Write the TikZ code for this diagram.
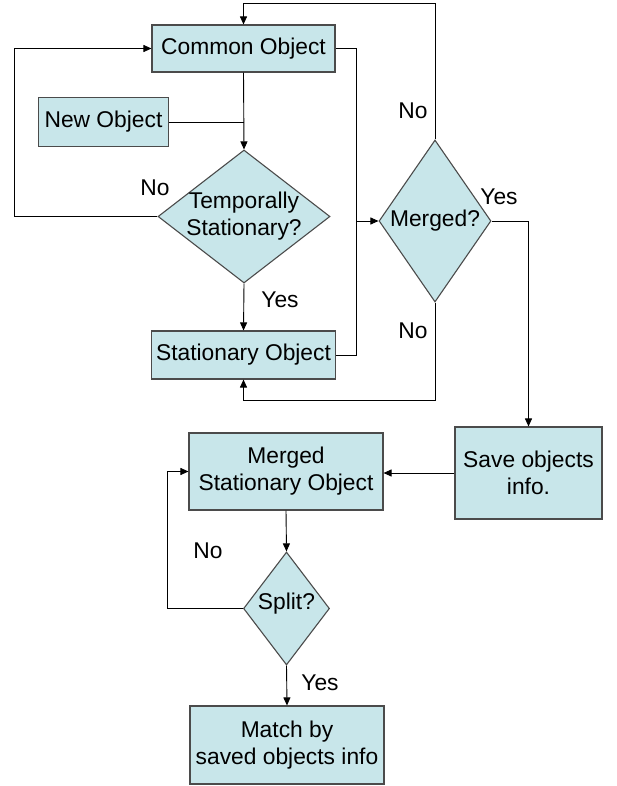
\documentclass[tikz,border=0pt]{standalone}
\usepackage{fontspec}
\setmainfont{Liberation Sans}
\usetikzlibrary{shapes.geometric,arrows.meta}

\definecolor{boxfill}{RGB}{200,230,234}
\definecolor{boxline}{RGB}{75,75,75}

\begin{document}
\begin{tikzpicture}[
    x=1pt, y=-1pt,
    font=\fontsize{22.8}{27}\selectfont,
    box/.style={draw=boxline, fill=boxfill, line width=1.1pt, rectangle, align=center, inner sep=0pt},
    decision/.style={draw=boxline, fill=boxfill, line width=1.1pt, diamond, inner sep=0pt},
    lbl/.style={inner sep=0pt},
    arrow/.style={-{Triangle[length=8pt,width=7pt]}, line width=0.9pt},
    line/.style={line width=0.9pt}
]
    \useasboundingbox (0,0) rectangle (616,786);

    % Upper part
    \node[box, minimum width=183, minimum height=47] (co) at (243.5,48.5) {Common Object};
    \node[box, minimum width=130, minimum height=49] (nw) at (103.5,122) {New Object};
    \node[decision, minimum width=172, minimum height=133] (ts) at (244,216.5) {};
    \node[lbl, align=center] (tstext) at (ts) {Temporally\\Stationary?};
    \node[box, minimum width=184, minimum height=48] (so) at (243.5,355) {Stationary Object};

    % Merge test
    \node[decision, minimum width=112, minimum height=162] (mg) at (435,221) {};
    \node[lbl] (mgtext) at (mg) {Merged?};
    \node[box, minimum width=147, minimum height=92] (soi) at (528.5,473) {Save objects\\info.};

    % Lower part
    \node[box, minimum width=194, minimum height=77] (mso) at (286,471.5) {Merged\\Stationary Object};
    \node[decision, minimum width=86, minimum height=113] (sp) at (286.5,608.5) {};
    \node[lbl] (sptext) at (286.5,604) {Split?};
    \node[box, minimum width=194, minimum height=78] (mbs) at (287,745) {Match by\\saved objects info};

    % Labels
    \node[lbl] (ts-no) at (155,188) {No};
    \node[lbl] (ts-yes) at (280,300) {Yes};
    \node[lbl] (mg-no1) at (413,111) {No};
    \node[lbl] (mg-yes) at (499,197) {Yes};
    \node[lbl] (mg-no2) at (413,331) {No};
    \node[lbl] (sp-no) at (208,551) {No};
    \node[lbl] (sp-yes) at (320,683) {Yes};

    % Helper coordinates
    \coordinate (loopL) at (14,0);
    \coordinate (loopS) at (167,0);
    \coordinate (join) at (356,221);
    \coordinate (top) at (0,3);
    \coordinate (bot) at (0,400);

    % Arrows
    \draw[arrow] (co.south) -- (ts.north);
    \draw[line] (nw.east) -- (nw.east -| co.south);
    \draw[arrow] (ts.west) -- (ts.west -| loopL) |- (co.west);
    \draw[arrow] (ts.south) -- (so.north);
    \draw[line] (co.east) -| (join);
    \draw[line] (so.east) -| (join);
    \draw[arrow] (join) -- (mg.west);
    \draw[arrow] (mg.north) -- (mg.north |- top) -| (co.north);
    \draw[arrow] (mg.south) -- (mg.south |- bot) -| (so.south);
    \draw[arrow] (mg.east) -| (soi.north);
    \draw[arrow] (soi.west) -- (soi.west -| mso.east);
    \draw[arrow] (mso.south) -- (sp.north);
    \draw[arrow] (sp.west) -- (sp.west -| loopS) |- (mso.west);
    \draw[arrow] (sp.south) -- (mbs.north);
\end{tikzpicture}
\end{document}
